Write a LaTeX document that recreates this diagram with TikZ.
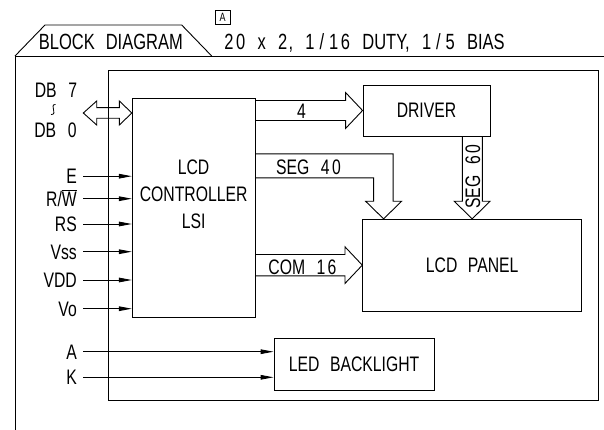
\documentclass[tikz,border=0pt]{standalone}
\usepackage{fontspec}
\setmainfont{Liberation Sans}[FakeStretch=0.75,WordSpace=2.4]
\usetikzlibrary{calc,arrows.meta}
\newcommand\dg[1]{\makebox[11pt]{#1}}
\newcommand\hdg[1]{\makebox[11.8pt]{#1}}
\begin{document}
\begin{tikzpicture}[x=1pt,y=-1pt,line width=0.9pt,
  box/.style={draw,inner sep=0pt,font=\fontsize{21}{25}\selectfont,text height=15pt,text depth=0pt},
  txt/.style={inner sep=0pt,font=\fontsize{21}{25}\selectfont,text height=15pt,text depth=0pt},
  lbl/.style={txt,anchor=east,inner xsep=6pt},
  sig/.style={-{Triangle[length=13pt,width=4.6pt]}},
  bus/.style={line join=miter}]
\useasboundingbox (0,0) rectangle (604,430);
% frames
\draw (604,56) -- (15,56) -- (15,430);
\draw (15,56) -- (45,25) -- (181.7,25) -- (211.7,56);
\draw (108,70.7) rectangle (598,400);
% header
\node[txt,font=\fontsize{22}{26}\selectfont,text height=15.8pt] (title) at (110.8,41.3) {BLOCK DIAGRAM};
\node[txt,font=\fontsize{22}{26}\selectfont,text height=15.8pt,anchor=west] (spec) at (222.5,41.3)
  {\hdg2\hdg0 x \hdg2, \hdg1\hdg/\hdg1\hdg6 DUTY, \hdg1\hdg/\hdg5 BIAS};
\node[draw,line width=0.7pt,minimum width=15pt,minimum height=13.3pt,inner sep=0pt,font=\fontsize{12}{12}\selectfont] (boxA) at (222.5,17.4) {A};
% blocks
\node[box,minimum width=122.7pt,minimum height=219.2pt] (ctrl) at (193.65,207.9) {};
\node[txt,align=center,font=\fontsize{21}{27}\selectfont,text height=,text depth=] (ctlt) at (193.6,194.7) {LCD\\CONTROLLER\\LSI};
\node[box,minimum width=127pt,minimum height=51pt] (drv) at (426.5,110.5) {DRIVER};
\node[box,minimum width=218.9pt,minimum height=91.7pt] (lcd) at (472.2,265.15) {LCD PANEL};
\node[box,minimum width=160.3pt,minimum height=51.7pt] (led) at (354.15,364.15) {LED BACKLIGHT};
% data bus
\node[txt] (db7) at (56.5,90.5) {DB \dg7};
\node[txt] (db0) at (56,130.5) {DB \dg0};
\draw[line width=0.8pt] (55.5,104.5) .. controls (52.5,104) and (52.5,107.5) .. (53.5,109.5) .. controls (54.5,111.5) and (54.5,115) .. (51,114.5);
\coordinate (dbL) at (83.3,113);
\coordinate (dbR) at (ctrl.west |- dbL);
\draw[bus] (dbL) -- ($(dbL)+(13.4,-12)$) -- ($(dbL)+(13.4,-5.3)$) -- ($(dbR)+(-12.5,-5.3)$) -- ($(dbR)+(-12.5,-12)$) -- (dbR)
  -- ($(dbR)+(-12.5,12)$) -- ($(dbR)+(-12.5,5.3)$) -- ($(dbL)+(13.4,5.3)$) -- ($(dbL)+(13.4,12)$) -- cycle;
% signals
\node[lbl] (lE) at (83.3,176.2) {E};
\node[lbl] (lRW) at (83.3,198.7) {R/$\overline{\mbox{W}}$};
\node[lbl] (lRS) at (83.3,224) {RS};
\node[lbl] (lVss) at (83.3,251.7) {Vss};
\node[lbl] (lVDD) at (83.3,280) {VDD};
\node[lbl] (lVo) at (83.3,308.7) {Vo};
\node[lbl] (lA) at (83.3,351.7) {A};
\node[lbl] (lK) at (83.3,377.3) {K};
\foreach \s in {lE,lRW,lRS,lVss,lVDD,lVo} \draw[sig] (\s.east) -- (ctrl.west |- \s.east);
\foreach \s in {lA,lK} \draw[sig] (\s.east) -- (led.west |- \s.east);
% bus 4
\coordinate (b4t) at ($(drv.west)+(0,-10)$);
\coordinate (b4b) at ($(drv.west)+(0,10)$);
\draw[bus] (ctrl.east |- b4t) -- ($(b4t)+(-17,0)$) -- ($(drv.west)+(-17,-18)$) -- (drv.west)
  -- ($(drv.west)+(-17,18)$) -- ($(b4b)+(-17,0)$) -- (ctrl.east |- b4b);
\node[txt] (n4) at (301.5,111) {4};
% COM 16
\coordinate (c16t) at ($(lcd.west)+(0,-10.7)$);
\coordinate (c16b) at ($(lcd.west)+(0,10.7)$);
\draw[bus] (ctrl.east |- c16t) -- ($(c16t)+(-17.3,0)$) -- ($(lcd.west)+(-17.3,-18.3)$) -- (lcd.west)
  -- ($(lcd.west)+(-17.3,18.3)$) -- ($(c16b)+(-17.3,0)$) -- (ctrl.east |- c16b);
\node[txt] (n16) at (303,267) {COM \dg1\dg6};
% SEG 40
\coordinate (s40) at ($(lcd.north west)+(21.3,0)$);
\coordinate (s40r) at ($(s40)+(9.5,-65)$);
\coordinate (s40l) at ($(s40)+(-10,-41)$);
\draw[bus] (ctrl.east |- s40r) -- (s40r) -- ($(s40)+(9.5,-17.6)$) -- ($(s40)+(18,-17.6)$) -- (s40)
  -- ($(s40)+(-18,-17.6)$) -- ($(s40)+(-10,-17.6)$) -- (s40l) -- (ctrl.east |- s40l);
\node[txt] (n40) at (309,167) {SEG \dg4\dg0};
% SEG 60
\coordinate (s60l) at ($(lcd.north)+(-9.8,-17.6)$);
\coordinate (s60r) at ($(lcd.north)+(10.2,-17.6)$);
\draw[bus] (s60l |- drv.south) -- (s60l) -- ($(lcd.north)+(-18,-17.6)$) -- (lcd.north)
  -- ($(lcd.north)+(17.8,-17.6)$) -- (s60r) -- (s60r |- drv.south);
\node[txt,rotate=90] (n60) at (472.5,176) {SEG \dg6\dg0};
\end{tikzpicture}
\end{document}
